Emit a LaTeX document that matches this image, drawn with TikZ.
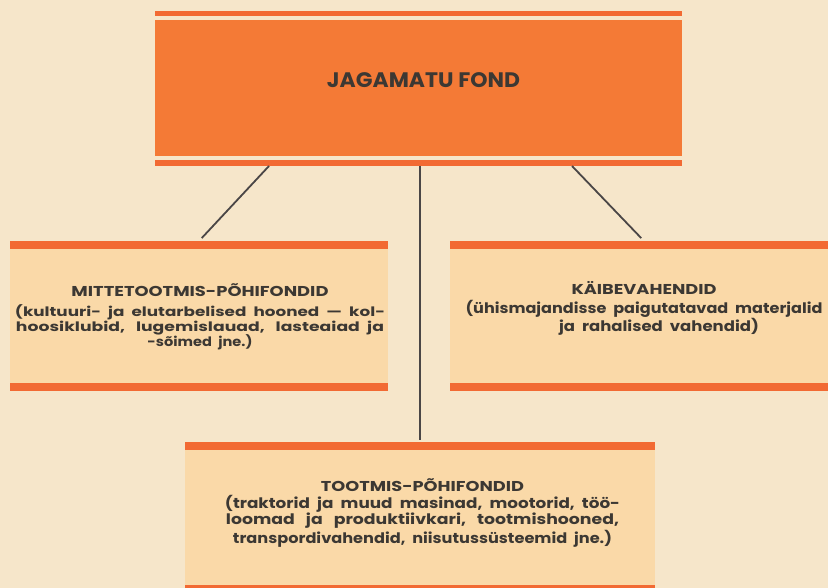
\documentclass[tikz,border=0pt]{standalone}
\usepackage{fontspec}
\usepackage{graphicx}
\setmainfont{Poppins}
\usetikzlibrary{calc}
\definecolor{bg}{HTML}{F6E6CA}
\definecolor{orangemain}{HTML}{F47A36}
\definecolor{stripec}{HTML}{F26A33}
\definecolor{peach}{HTML}{FAD9A8}
\definecolor{ink}{HTML}{3C3833}
\definecolor{linec}{HTML}{4A4646}
\newcommand{\fitline}[2]{\resizebox{#1}{\height}{#2}}
\newcommand{\boxhead}[2]{\fitline{#1}{\fontsize{14.3}{16}\selectfont #2}}
\begin{document}
\begin{tikzpicture}[x=1pt,y=-1pt,
  plate/.style={draw=none, inner sep=0pt, outer sep=0pt, anchor=north west},
  stripebar/.style={plate, fill=stripec},
  mainfill/.style={plate, fill=orangemain},
  peachfill/.style={plate, fill=peach},
  toptextstyle/.style={text=ink, font=\bfseries\fontsize{21}{24}\selectfont, inner sep=0pt},
  boxtext/.style={text=ink, inner sep=0pt, align=center, anchor=base},
  conn/.style={draw=linec, line width=1.8pt, shorten >=4pt}
]
\useasboundingbox (0,0) rectangle (828,588);
\fill[bg] (0,0) rectangle (828,588);

% top box
\node[stripebar, minimum width=527pt, minimum height=5pt] (topA) at (155,11) {};
\node[mainfill, minimum width=527pt, minimum height=136pt] (top) at (155,20) {};
\node[stripebar, minimum width=527pt, minimum height=6pt] (topB) at (155,160) {};
\node[toptextstyle, anchor=base] (toptext) at (423.5,88) {\fitline{193pt}{JAGAMATU FOND}};

% left box
\node[stripebar, minimum width=378pt, minimum height=8pt] (leftA) at (10,241) {};
\node[peachfill, minimum width=378pt, minimum height=134pt] (left) at (10,249) {};
\node[stripebar, minimum width=378pt, minimum height=8pt] (leftB) at (10,383) {};
\node[boxtext, font=\bfseries\fontsize{13}{15.5}\selectfont] (lefttext) at (200,347) {%
\boxhead{257pt}{MITTETOOTMIS-PÕHIFONDID}\\[3.5pt]
\fitline{370pt}{(kultuuri-\ \ ja\ \ elutarbelised\ \ hooned\ \ —\ \ kol-}\\
\fitline{368pt}{hoosiklubid,\ \ \ lugemislauad,\ \ \ lasteaiad\ \ ja}\\
\fitline{105pt}{-sõimed\ \ jne.)}};

% right box
\node[stripebar, minimum width=388pt, minimum height=8pt] (rightA) at (450,241) {};
\node[peachfill, minimum width=388pt, minimum height=134pt] (right) at (450,249) {};
\node[stripebar, minimum width=388pt, minimum height=8pt] (rightB) at (450,383) {};
\node[boxtext, font=\bfseries\fontsize{14.5}{15.5}\selectfont] (righttext) at (644,332) {%
\boxhead{145pt}{KÄIBEVAHENDID}\\[3.5pt]
\fitline{357pt}{(ühismajandisse\ \ paigutatavad\ \ materjalid}\\
\hspace*{30pt}\fitline{200pt}{ja\ \ rahalised\ \ vahendid)}};

% bottom box
\node[stripebar, minimum width=470pt, minimum height=8pt] (botA) at (185,442) {};
\node[peachfill, minimum width=470pt, minimum height=135pt] (bot) at (185,450) {};
\node[stripebar, minimum width=470pt, minimum height=8pt] (botB) at (185,585) {};
\node[boxtext, font=\bfseries\fontsize{14.5}{16.7}\selectfont] (bottext) at (422.5,543) {%
\boxhead{203pt}{TOOTMIS-PÕHIFONDID}\\
\fitline{395pt}{(traktorid\ \ ja\ \ muud\ \ masinad,\ \ mootorid,\ \ töö-}\\
\fitline{393pt}{loomad\ \ \ ja\ \ \ produktiivkari,\ \ \ tootmishooned,}\\
\fitline{379pt}{transpordivahendid,\ \ niisutussüsteemid\ \ jne.)}};

% connectors
\draw[conn] ($(topB.south west)!0.2163!(topB.south east)$) -- (leftA.north);
\draw[conn] ($(topB.south west)!0.7913!(topB.south east)$) -- (rightA.north);
\draw[conn, shorten >=2pt] (topB.south -| botA.north) -- (botA.north);
\end{tikzpicture}
\end{document}
